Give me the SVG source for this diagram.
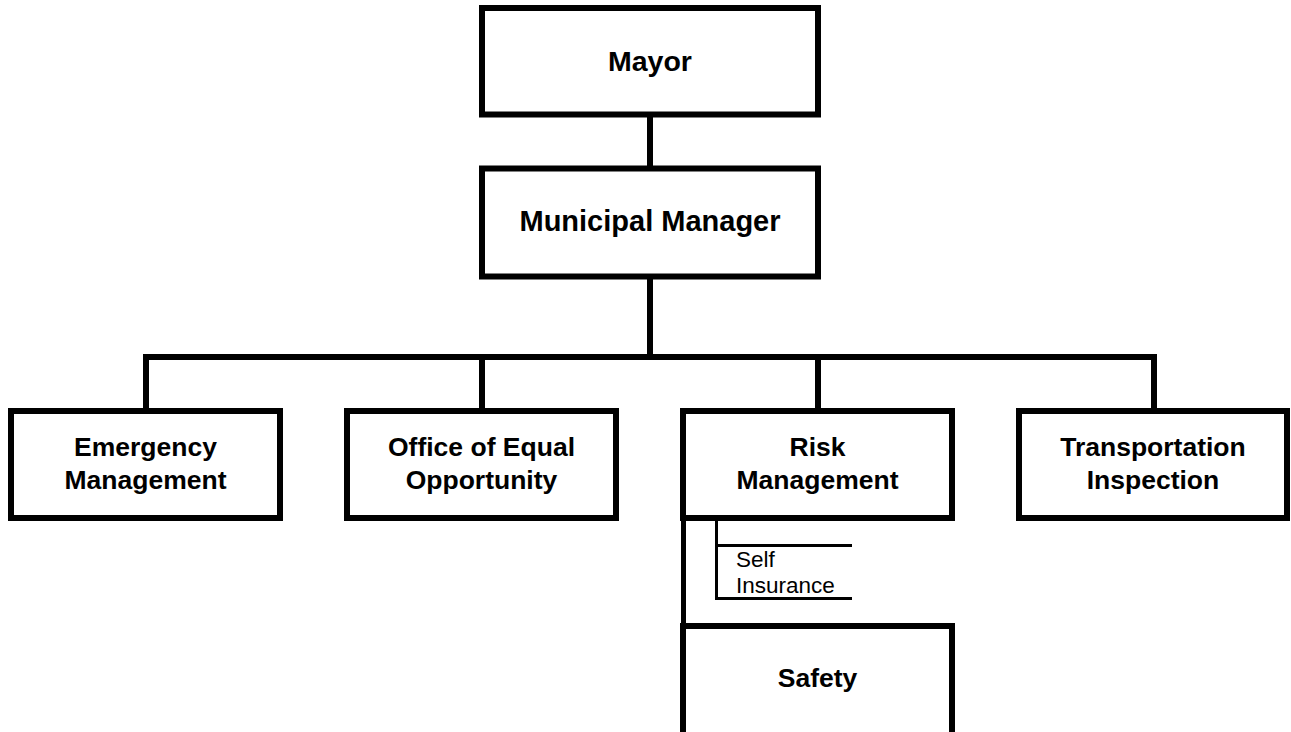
<svg xmlns="http://www.w3.org/2000/svg" width="1291" height="732" viewBox="0 0 1291 732">
  <style>
    .box { fill: #ffffff; stroke: #000000; stroke-width: 6; }
    .conn { fill: none; stroke: #000000; stroke-width: 6; stroke-linecap: square; }
    .thin { fill: none; stroke: #000000; stroke-width: 3; }
    .t1 { font-family: "Liberation Sans", Arial, sans-serif; font-weight: bold; font-size: 28.5px; text-anchor: middle; fill: #000; }
    .t2 { font-family: "Liberation Sans", Arial, sans-serif; font-weight: bold; font-size: 26.5px; text-anchor: middle; fill: #000; }
    .t3 { font-family: "Liberation Sans", Arial, sans-serif; font-size: 22.5px; fill: #000; }
  </style>
  <rect width="1291" height="732" fill="#ffffff"/>
  <g id="connectors">
    <line class="conn" x1="650" y1="115" x2="650" y2="168"/>
    <line class="conn" x1="650" y1="277" x2="650" y2="357"/>
    <polyline class="conn" points="146,411 146,357 1154,357 1154,411"/>
    <line class="conn" x1="482" y1="357" x2="482" y2="411"/>
    <line class="conn" x1="818" y1="357" x2="818" y2="411"/>
    <line class="conn" x1="683.5" y1="518" x2="683.5" y2="626" style="stroke-width:5"/>
  </g>
  <g id="mayor">
    <rect class="box" x="482" y="8" width="336" height="106.5"/>
    <text class="t1" x="650" y="71">Mayor</text>
  </g>
  <g id="municipal-manager">
    <rect class="box" x="482" y="168.5" width="336" height="108"/>
    <text class="t1" x="650" y="231" style="font-size:29px">Municipal Manager</text>
  </g>
  <g id="emergency-management">
    <rect class="box" x="11" y="411" width="269" height="107"/>
    <text class="t2" x="145.5" y="456">Emergency</text>
    <text class="t2" x="145.5" y="489">Management</text>
  </g>
  <g id="equal-opportunity">
    <rect class="box" x="347" y="411" width="269" height="107"/>
    <text class="t2" x="481.5" y="456">Office of Equal</text>
    <text class="t2" x="481.5" y="489">Opportunity</text>
  </g>
  <g id="risk-management">
    <rect class="box" x="683" y="411" width="269" height="107"/>
    <text class="t2" x="817.5" y="456">Risk</text>
    <text class="t2" x="817.5" y="489">Management</text>
  </g>
  <g id="transportation-inspection">
    <rect class="box" x="1019" y="411" width="268" height="107"/>
    <text class="t2" x="1153" y="456">Transportation</text>
    <text class="t2" x="1153" y="489">Inspection</text>
  </g>
  <g id="self-insurance">
    <polyline class="thin" points="852,545.5 716.5,545.5 716.5,521 716.5,598.5 852,598.5"/>
    <text class="t3" x="736" y="567">Self</text>
    <text class="t3" x="736" y="593">Insurance</text>
  </g>
  <g id="safety">
    <rect class="box" x="683" y="626" width="269" height="120"/>
    <text class="t2" x="817.5" y="687">Safety</text>
  </g>
</svg>
